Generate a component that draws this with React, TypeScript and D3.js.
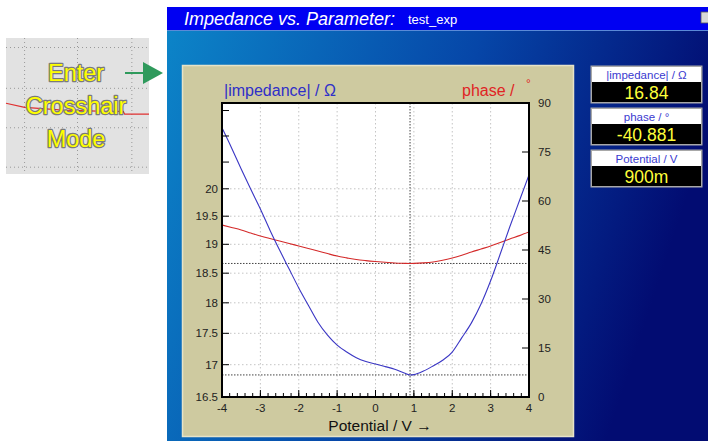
import React from 'react';
import * as d3 from 'd3';

// sweep values
const potentialV = [-4, -3.75, -3.5, -3.25, -3, -2.75, -2.5, -2.25, -2, -1.75, -1.5, -1.25, -1, -0.75, -0.5, -0.25, 0, 0.25, 0.5, 0.75, 0.9, 1, 1.25, 1.5, 1.75, 2, 2.25, 2.5, 2.75, 3, 3.25, 3.5, 3.75, 4];
const impedance = [21.16, 20.77, 20.37, 19.99, 19.63, 19.25, 18.9, 18.57, 18.25, 17.96, 17.68, 17.47, 17.31, 17.2, 17.11, 17.05, 17.01, 16.97, 16.93, 16.87, 16.84, 16.845, 16.9, 16.98, 17.07, 17.2, 17.43, 17.67, 17.98, 18.37, 18.83, 19.31, 19.78, 20.26];
const phase = [52.65, 51.9, 51.12, 50.2, 49.29, 48.5, 47.76, 47.0, 46.22, 45.45, 44.69, 43.9, 43.16, 42.6, 42.09, 41.75, 41.48, 41.25, 41.02, 40.92, 40.881, 40.9, 41.05, 41.33, 41.85, 42.55, 43.4, 44.39, 45.3, 46.22, 47.3, 48.37, 49.4, 50.51];

const xTicks = [-4, -3, -2, -1, 0, 1, 2, 3, 4];
const impLabelTicks = [16.5, 17, 17.5, 18, 18.5, 19, 19.5, 20];
const impExtraTicks = [20.5, 21, 21.5];
const phaseTicks = [0, 15, 30, 45, 60, 75, 90];

// crosshair position
const cross = { v: 0.9, imp: 16.84, phase: 40.881 };
const readouts = [
  { label: '|impedance| / Ω', value: '16.84' },
  { label: 'phase / °', value: '-40.881' },
  { label: 'Potential / V', value: '900m' },
];

// little inset picture (fractions of the inset box)
const insetGridX = [0.13, 0.5, 0.88];
const insetGridY = [0.07, 0.37, 0.66, 0.95];
const insetTrace = [[0, 0.48], [0.13, 0.51], [0.4, 0.53], [0.7, 0.54], [0.82, 0.54], [0.83, 0.56], [1, 0.56]];

const FONT = 'Arial, "Liberation Sans", sans-serif';

export default function App() {
  const W = 708, H = 441;
  const m = { left: 222, right: 529, top: 103, bottom: 397 };

  const x = d3.scaleLinear().domain([-4, 4]).range([m.left, m.right]);
  const yImp = d3.scaleLog().domain([16.5, 21.65]).range([m.bottom, m.top]);
  const yPh = d3.scaleLinear().domain([0, 90]).range([m.bottom, m.top]);

  const impLine = d3.line<number>()
    .x((d, i) => x(potentialV[i]))
    .y(d => yImp(d))
    .curve(d3.curveMonotoneX);
  const phLine = d3.line<number>()
    .x((d, i) => x(potentialV[i]))
    .y(d => yPh(d))
    .curve(d3.curveMonotoneX);

  const minorX = d3.range(-4, 4.001, 0.2);

  const ix = d3.scaleLinear().domain([0, 1]).range([6, 149]);
  const iy = d3.scaleLinear().domain([0, 1]).range([38, 174]);
  const insetLine = d3.line<number[]>().x(d => ix(d[0])).y(d => iy(d[1]));

  return (
    <svg width={W} height={H} style={{ position: 'absolute', left: 0, top: 0, fontFamily: FONT }}>
      <defs>
        <linearGradient id="bg" x1="0" y1="0" x2="1" y2="0.25">
          <stop offset="0%" stopColor="#0c84c8" />
          <stop offset="55%" stopColor="#0646a8" />
          <stop offset="100%" stopColor="#020c72" />
        </linearGradient>
        <clipPath id="plotclip">
          <rect x={m.left} y={m.top} width={m.right - m.left} height={m.bottom - m.top} />
        </clipPath>
      </defs>

      {/* window */}
      <rect x={167} y={30} width={W - 167} height={H - 30} fill="url(#bg)" />
      <rect x={167} y={7} width={W - 167} height={23} fill="#0000f2" />
      <line x1={167} x2={W} y1={30.5} y2={30.5} stroke="#5a8ad8" />
      <text x={184} y={25} fill="#fff" fontSize={18} fontStyle="italic">Impedance vs. Parameter:</text>
      <text x={408} y={24} fill="#fff" fontSize={13}>test_exp</text>
      <rect x={701} y={12} width={8} height={11} fill="#d8d8d8" stroke="#555" strokeWidth={0.8} />

      {/* inset */}
      <rect x={ix(0)} y={iy(0)} width={ix(1) - ix(0)} height={iy(1) - iy(0)} fill="#e2e2e2" />
      {insetGridX.map(g => (
        <line key={'ix' + g} x1={ix(g)} x2={ix(g)} y1={iy(0)} y2={iy(1)} stroke="#999" strokeDasharray="1,3" />
      ))}
      {insetGridY.map(g => (
        <line key={'iy' + g} x1={ix(0)} x2={ix(1)} y1={iy(g)} y2={iy(g)} stroke="#999" strokeDasharray="1,3" />
      ))}
      <path d={insetLine(insetTrace) || ''} fill="none" stroke="#e03030" strokeWidth={1.2} />
      {['Enter', 'Crosshair', 'Mode'].map((t, i) => (
        <text key={t} x={ix(0.49)} y={81 + i * 33} textAnchor="middle" fontSize={23.5}
          fill="#ffff00" stroke="#7a7a7a" strokeWidth={2.5} paintOrder="stroke" strokeLinejoin="round">{t}</text>
      ))}
      <line x1={125} x2={146} y1={73} y2={73} stroke="#2f9a5c" strokeWidth={2} />
      <path d="M143,62 L163,73 L143,84 Z" fill="#2f9a5c" />

      {/* chart panel */}
      <rect x={182.5} y={65.5} width={391} height={371} fill="#cecaa0" stroke="#e6e3c8" strokeWidth={1.5} />
      <rect x={m.left} y={m.top} width={m.right - m.left} height={m.bottom - m.top} fill="#fff" />

      {xTicks.slice(1, -1).map(t => (
        <line key={'gx' + t} x1={x(t)} x2={x(t)} y1={m.top} y2={m.bottom} stroke="#c4c4c4" strokeDasharray="1.5,2.5" />
      ))}
      {impLabelTicks.slice(1).map(t => (
        <line key={'gy' + t} x1={m.left} x2={m.right} y1={yImp(t)} y2={yImp(t)} stroke="#c4c4c4" strokeDasharray="1.5,2.5" />
      ))}

      {/* crosshair */}
      <g stroke="#444" strokeDasharray="1.5,1.5" strokeWidth={1}>
        <line x1={x(cross.v)} x2={x(cross.v)} y1={m.top} y2={m.bottom} />
        <line x1={m.left} x2={m.right} y1={yImp(cross.imp)} y2={yImp(cross.imp)} />
        <line x1={m.left} x2={m.right} y1={yPh(cross.phase)} y2={yPh(cross.phase)} />
      </g>

      <g clipPath="url(#plotclip)">
        <path d={phLine(phase) || ''} fill="none" stroke="#d42a2a" strokeWidth={1.1} />
        <path d={impLine(impedance) || ''} fill="none" stroke="#3a36c4" strokeWidth={1.1} />
      </g>

      <rect x={m.left} y={m.top} width={m.right - m.left} height={m.bottom - m.top} fill="none" stroke="#000" strokeWidth={2} />

      {/* ticks */}
      {minorX.map(t => (
        <line key={'mx' + t} x1={x(t)} x2={x(t)} y1={m.bottom} y2={m.bottom - 4} stroke="#000" />
      ))}
      {xTicks.map(t => (
        <line key={'tx' + t} x1={x(t)} x2={x(t)} y1={m.bottom} y2={m.bottom - 7} stroke="#000" />
      ))}
      {impLabelTicks.concat(impExtraTicks).map(t => (
        <line key={'ty' + t} x1={m.left} x2={m.left + 7} y1={yImp(t)} y2={yImp(t)} stroke="#000" />
      ))}
      {phaseTicks.map(t => (
        <line key={'tp' + t} x1={m.right} x2={m.right - 7} y1={yPh(t)} y2={yPh(t)} stroke="#000" />
      ))}

      {/* tick labels */}
      <g fontSize={11.5} fill="#222">
        {xTicks.map(t => (
          <text key={'lx' + t} x={x(t)} y={412} textAnchor="middle">{t}</text>
        ))}
        {impLabelTicks.map(t => (
          <text key={'ly' + t} x={218} y={yImp(t) + 4} textAnchor="end">{t}</text>
        ))}
        {phaseTicks.map(t => (
          <text key={'lp' + t} x={538} y={yPh(t) + 4}>{t}</text>
        ))}
      </g>

      {/* axis titles */}
      <text x={224} y={96} fontSize={16} fill="#2f2fc8">|impedance| / Ω</text>
      <text x={462} y={96} fontSize={16} fill="#e02424">phase /</text>
      <text x={526} y={88} fontSize={12} fill="#e02424">°</text>
      <text x={380} y={430.5} fontSize={15.5} fill="#111" textAnchor="middle">Potential / V →</text>

      {/* readouts */}
      {readouts.map((r, i) => {
        const top = 66 + i * 42;
        return (
          <g key={r.label}>
            <rect x={590.5} y={top - 0.5} width={112} height={38} fill="#a8a8a8" />
            <rect x={592} y={top + 1} width={109} height={15} fill="#fff" />
            <rect x={592} y={top + 16} width={109} height={20} fill="#000" />
            <text x={646.5} y={top + 12.5} textAnchor="middle" fontSize={11.5} fill="#3a3ad0">{r.label}</text>
            <text x={646.5} y={top + 32.5} textAnchor="middle" fontSize={17.5} fill="#ffff3a">{r.value}</text>
          </g>
        );
      })}
    </svg>
  );
}
